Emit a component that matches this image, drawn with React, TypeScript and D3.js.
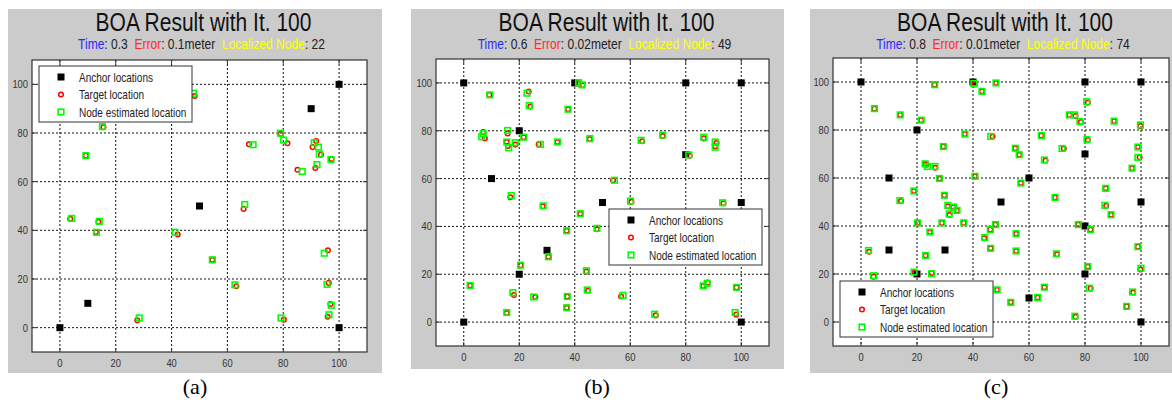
import React from "react";
import * as d3 from "d3";

type Pt = [number, number];

// shared labels
const tickValues = [0, 20, 40, 60, 80, 100];
const titleText = "BOA Result with It. 100";
const timeValues = ["0.3", "0.6", "0.8"];
const errorValues = ["0.1meter", "0.02meter", "0.01meter"];
const localizedValues = ["22", "49", "74"];
const panelLabels = ["(a)", "(b)", "(c)"];
const legendLabels = ["Anchor locations", "Target location", "Node estimated location"];

// panel (a)
const anchorsA: Pt[] = [[0, 0], [10, 10], [50, 50], [90, 90], [100, 100], [100, 0]];
const targetsA: Pt[] = [
  [48.3, 95.2], [15.6, 82.4], [9.3, 70.7], [67.7, 75.4], [79.1, 79.7], [81.5, 75.8], [85.1, 64.9],
  [91.8, 76.7], [90.5, 74.2], [93.5, 71.1], [91.5, 65.6], [97.3, 69.3], [3.7, 44.7], [13.8, 43.5],
  [12.9, 39.3], [42.2, 38.3], [54.6, 27.9], [65.8, 48.8], [63.2, 17.0], [27.7, 3.0], [80.2, 3.3],
  [96.0, 31.8], [96.3, 18.4], [96.9, 9.7], [95.9, 4.5],
];
const estimatesA: Pt[] = [
  [47.8, 96.3], [15.2, 82.6], [9.3, 70.7], [69.2, 75.2], [79.0, 79.9], [80.1, 77.1], [86.8, 64.2],
  [91.1, 76.0], [92.6, 74.2], [92.9, 71.3], [92.1, 67.0], [97.1, 69.1], [4.2, 44.9], [14.1, 43.7],
  [13.1, 39.2], [41.2, 39.2], [54.6, 27.9], [66.2, 50.6], [62.7, 17.6], [28.4, 4.0], [79.2, 4.0],
  [94.7, 30.6], [95.7, 17.8], [97.2, 9.2], [96.4, 5.3],
];

// panel (b)
const anchorsB: Pt[] = [
  [0, 100], [40, 100], [80, 100], [100, 100], [20, 80], [10, 60], [80, 70], [50, 50], [100, 50],
  [30, 30], [20, 20], [0, 0], [100, 0],
];
const targetsB: Pt[] = [
  [9.2, 95.0], [23.4, 96.4], [24.0, 90.1], [37.6, 89.0], [41.6, 99.8], [42.8, 99.0], [7.0, 79.5],
  [7.6, 76.8], [15.8, 78.9], [15.5, 75.3], [15.9, 73.6], [18.6, 74.2], [21.6, 77.3], [27.0, 74.3],
  [33.8, 75.3], [45.4, 76.5], [64.3, 75.6], [71.7, 77.8], [86.5, 76.8], [91.1, 74.9], [90.6, 73.5],
  [81.4, 69.5], [53.8, 59.3], [16.8, 52.2], [60.4, 50.3], [93.6, 49.7], [28.5, 48.4], [42.0, 45.3],
  [37.1, 38.2], [48.0, 38.8], [30.5, 27.3], [20.5, 23.8], [44.2, 21.1], [2.3, 15.3], [18.1, 11.3],
  [25.8, 10.5], [37.3, 10.7], [44.8, 13.2], [56.7, 10.7], [15.5, 3.8], [37.1, 6.0], [69.2, 2.8],
  [86.3, 15.1], [87.9, 16.5], [98.3, 14.5], [98.2, 3.1],
];
const estimatesB: Pt[] = [
  [9.4, 95.0], [22.8, 95.7], [23.6, 90.5], [37.6, 89.0], [41.4, 100.1], [42.6, 99.2], [7.0, 78.8],
  [6.5, 77.5], [15.8, 80.1], [15.5, 75.3], [16.2, 72.9], [18.6, 75.0], [21.6, 77.3], [27.6, 74.3],
  [33.8, 75.3], [45.4, 76.7], [63.9, 76.0], [71.7, 78.2], [86.5, 77.3], [90.6, 75.3], [90.6, 73.1],
  [81.1, 69.9], [54.3, 59.3], [17.1, 52.9], [60.1, 50.6], [93.3, 49.9], [28.6, 48.6], [42.0, 45.3],
  [37.1, 38.2], [48.0, 39.2], [30.5, 27.3], [20.5, 23.8], [44.2, 21.5], [2.3, 15.3], [17.7, 12.3],
  [25.2, 10.5], [37.3, 10.7], [44.5, 13.4], [57.4, 11.2], [15.5, 4.0], [37.1, 6.0], [68.8, 3.3],
  [86.3, 15.1], [87.7, 16.2], [98.3, 14.5], [97.8, 4.0],
];

// panel (c)
const anchorsC: Pt[] = [
  [0, 100], [40, 100], [80, 100], [100, 100], [20, 80], [10, 60], [60, 60], [80, 70], [50, 50],
  [100, 50], [80, 40], [10, 30], [30, 30], [20, 20], [80, 20], [60, 10], [100, 0],
];
const targetsC: Pt[] = [
  [26.3, 98.9], [40.6, 99.0], [48.2, 99.6], [43.2, 96.1], [4.8, 88.9], [14.0, 86.3], [21.5, 84.1],
  [81.0, 91.4], [74.4, 86.3], [76.6, 85.8], [78.5, 83.3], [90.4, 83.7], [99.8, 81.6], [37.1, 78.3],
  [47.0, 77.3], [64.4, 77.7], [81.0, 75.8], [29.4, 73.1], [55.1, 72.4], [56.5, 69.7], [72.4, 72.3],
  [98.9, 72.9], [99.5, 68.6], [65.9, 67.3], [96.8, 64.1], [22.9, 65.9], [23.4, 65.5], [26.5, 64.3],
  [28.0, 59.8], [40.7, 60.7], [57.1, 57.9], [18.9, 54.6], [87.4, 55.7], [69.3, 51.9], [14.3, 50.4],
  [29.8, 52.8], [31.0, 48.2], [33.0, 47.9], [87.6, 48.4], [34.3, 46.5], [31.6, 44.6], [20.2, 41.3],
  [28.9, 41.3], [36.7, 41.3], [24.6, 37.5], [46.2, 38.5], [48.0, 40.6], [44.0, 34.9], [55.4, 36.8],
  [46.3, 30.7], [55.4, 29.6], [70.0, 28.2], [77.6, 40.6], [82.0, 38.5], [89.3, 44.7], [2.9, 29.3],
  [4.5, 18.9], [23.1, 27.7], [19.2, 20.6], [25.2, 20.4], [98.9, 31.4], [99.8, 21.9], [81.0, 23.1],
  [82.0, 14.0], [48.6, 13.4], [53.5, 8.2], [63.1, 10.2], [65.5, 14.5], [76.6, 2.2], [97.2, 12.3],
  [94.9, 6.5],
];
const estimatesC: Pt[] = [
  [26.3, 98.9], [40.3, 99.4], [48.2, 99.6], [43.2, 96.1], [4.8, 88.9], [14.0, 86.3], [21.5, 84.1],
  [80.6, 91.8], [74.4, 86.3], [76.3, 86.3], [78.2, 83.5], [90.4, 83.7], [99.8, 82.1], [37.1, 78.3],
  [46.3, 77.3], [64.4, 77.7], [80.7, 76.0], [29.4, 73.1], [55.1, 72.4], [56.5, 69.7], [71.8, 72.3],
  [98.9, 72.9], [98.9, 68.6], [65.5, 67.5], [96.8, 64.1], [22.9, 65.9], [23.7, 64.8], [26.4, 64.8],
  [28.0, 59.8], [40.7, 60.7], [57.1, 57.9], [18.9, 54.6], [87.4, 55.7], [69.3, 51.9], [13.9, 50.6],
  [29.8, 52.8], [31.0, 48.6], [33.0, 47.9], [87.1, 48.6], [34.3, 46.5], [31.5, 45.0], [20.2, 41.3],
  [28.9, 41.3], [36.7, 41.3], [24.6, 37.5], [46.2, 38.5], [48.0, 40.6], [44.2, 35.2], [55.4, 36.8],
  [46.3, 30.7], [55.4, 29.6], [69.8, 28.4], [77.6, 40.6], [82.0, 38.5], [89.3, 44.7], [2.7, 29.8],
  [4.5, 19.3], [23.1, 27.7], [18.9, 20.8], [25.2, 20.1], [98.9, 31.4], [100, 22.4], [81.0, 23.1],
  [81.5, 14.1], [48.6, 13.4], [53.5, 8.2], [63.1, 10.2], [65.5, 14.5], [76.4, 2.4], [97.0, 12.5],
  [94.9, 6.5],
];

const panelData = [
  { anchors: anchorsA, targets: targetsA, estimates: estimatesA },
  { anchors: anchorsB, targets: targetsB, estimates: estimatesB },
  { anchors: anchorsC, targets: targetsC, estimates: estimatesC },
];

// layout of each figure panel in page pixels
const layouts = [
  { bg: [8, 9, 374, 364], plot: [32, 60, 367, 352], legend: [39, 66], label: 195 },
  { bg: [411, 9, 373, 360], plot: [436, 59, 769, 346], legend: [609, 209], label: 597 },
  { bg: [810, 9, 362, 364], plot: [833, 58, 1169, 346], legend: [840, 281], label: 996 },
];

const SANS = "'Liberation Sans', Arial, sans-serif";
const GREEN = "#00ff00";
const RED = "#ff0000";

function SText(props: any) {
  const { x, y, sx = 1, anchor = "start", size, fill = "#111", family = SANS, children } = props;
  return (
    <text
      transform={`translate(${x},${y}) scale(${sx},1)`}
      textAnchor={anchor}
      fontSize={size}
      fill={fill}
      fontFamily={family}
      xmlSpace="preserve"
      style={{ whiteSpace: "pre" }}
    >
      {children}
    </text>
  );
}

const Anchor = ({ x, y }: { x: number; y: number }) => (
  <rect x={x - 3.5} y={y - 3.5} width={7} height={7} fill="#000" />
);
const Target = ({ x, y }: { x: number; y: number }) => (
  <circle cx={x} cy={y} r={2.3} fill="none" stroke={RED} strokeWidth={1.5} />
);
const Estimate = ({ x, y }: { x: number; y: number }) => (
  <rect x={x - 2.8} y={y - 2.8} width={5.6} height={5.6} fill="none" stroke={GREEN} strokeWidth={1.6} />
);

function Panel({ i }: { i: number }) {
  const L = layouts[i];
  const D = panelData[i];
  const [x0, y0, x1, y1] = L.plot;
  const x = d3.scaleLinear().domain([-10, 110]).range([x0, x1]);
  const y = d3.scaleLinear().domain([-10, 110]).range([y1, y0]);
  const cx = (x0 + x1) / 2 + 4;
  const [lx, ly] = L.legend;
  const lw = 153;
  const lh = 56;
  const rows = [11, 28.5, 46];

  return (
    <g>
      <rect x={L.bg[0]} y={L.bg[1]} width={L.bg[2]} height={L.bg[3]} fill="#cbcbcb" />
      <rect x={x0} y={y0} width={x1 - x0} height={y1 - y0} fill="#fff" />

      {/* grid */}
      <g stroke="#111" strokeWidth={1} strokeDasharray="2,2">
        {tickValues.map((t) => (
          <line key={"gx" + t} x1={x(t)} x2={x(t)} y1={y0} y2={y1} />
        ))}
        {tickValues.map((t) => (
          <line key={"gy" + t} x1={x0} x2={x1} y1={y(t)} y2={y(t)} />
        ))}
      </g>
      {/* inward ticks */}
      <g stroke="#333" strokeWidth={1}>
        {tickValues.map((t) => (
          <g key={"t" + t}>
            <line x1={x(t)} x2={x(t)} y1={y1} y2={y1 - 4} />
            <line x1={x(t)} x2={x(t)} y1={y0} y2={y0 + 4} />
            <line x1={x0} x2={x0 + 4} y1={y(t)} y2={y(t)} />
            <line x1={x1} x2={x1 - 4} y1={y(t)} y2={y(t)} />
          </g>
        ))}
      </g>

      {/* markers */}
      {D.anchors.map((p, k) => (
        <Anchor key={"a" + k} x={x(p[0])} y={y(p[1])} />
      ))}
      {D.targets.map((p, k) => (
        <Target key={"r" + k} x={x(p[0])} y={y(p[1])} />
      ))}
      {D.estimates.map((p, k) => (
        <Estimate key={"e" + k} x={x(p[0])} y={y(p[1])} />
      ))}

      <rect x={x0} y={y0} width={x1 - x0} height={y1 - y0} fill="none" stroke="#333" strokeWidth={1.2} />

      {/* tick labels */}
      {tickValues.map((t) => (
        <SText key={"xl" + t} x={x(t)} y={y1 + 15} sx={0.85} anchor="middle" size={11} fill="#333">
          {t}
        </SText>
      ))}
      {tickValues.map((t) => (
        <SText key={"yl" + t} x={x0 - 4} y={y(t) + 4} sx={0.85} anchor="end" size={11} fill="#333">
          {t}
        </SText>
      ))}

      {/* legend */}
      <rect x={lx} y={ly} width={lw} height={lh} fill="#fff" stroke="#333" strokeWidth={1} />
      <Anchor x={lx + 22} y={ly + rows[0]} />
      <Target x={lx + 22} y={ly + rows[1]} />
      <Estimate x={lx + 22} y={ly + rows[2]} />
      {legendLabels.map((s, k) => (
        <SText key={"lg" + k} x={lx + 40} y={ly + rows[k] + 4.5} sx={0.77} size={13} fill="#222">
          {s}
        </SText>
      ))}

      {/* titles */}
      <SText x={cx} y={31} sx={0.84} anchor="middle" size={25} fill="#111">
        {titleText}
      </SText>
      <text
        transform={`translate(${cx - 2},49) scale(0.83,1)`}
        textAnchor="middle"
        fontSize={14.5}
        fontFamily={SANS}
        fill="#222"
        xmlSpace="preserve"
        style={{ whiteSpace: "pre" }}
      >
        <tspan fill="#2a2aff">Time</tspan>
        <tspan>{`: ${timeValues[i]}  `}</tspan>
        <tspan fill="#ff2a2a">Error</tspan>
        <tspan>{`: ${errorValues[i]}  `}</tspan>
        <tspan fill="#ffff00">Localized Node</tspan>
        <tspan>{`: ${localizedValues[i]}`}</tspan>
      </text>

      <SText x={L.label} y={394} anchor="middle" size={22} fill="#000" family="'Liberation Serif', 'Times New Roman', serif">
        {panelLabels[i]}
      </SText>
    </g>
  );
}

export default function App() {
  return (
    <svg
      width={1172}
      height={406}
      viewBox="0 0 1172 406"
      style={{ position: "absolute", left: 0, top: 0, background: "#fff" }}
    >
      <rect x={0} y={0} width={1172} height={406} fill="#fff" />
      {[0, 1, 2].map((i) => (
        <Panel key={i} i={i} />
      ))}
    </svg>
  );
}
